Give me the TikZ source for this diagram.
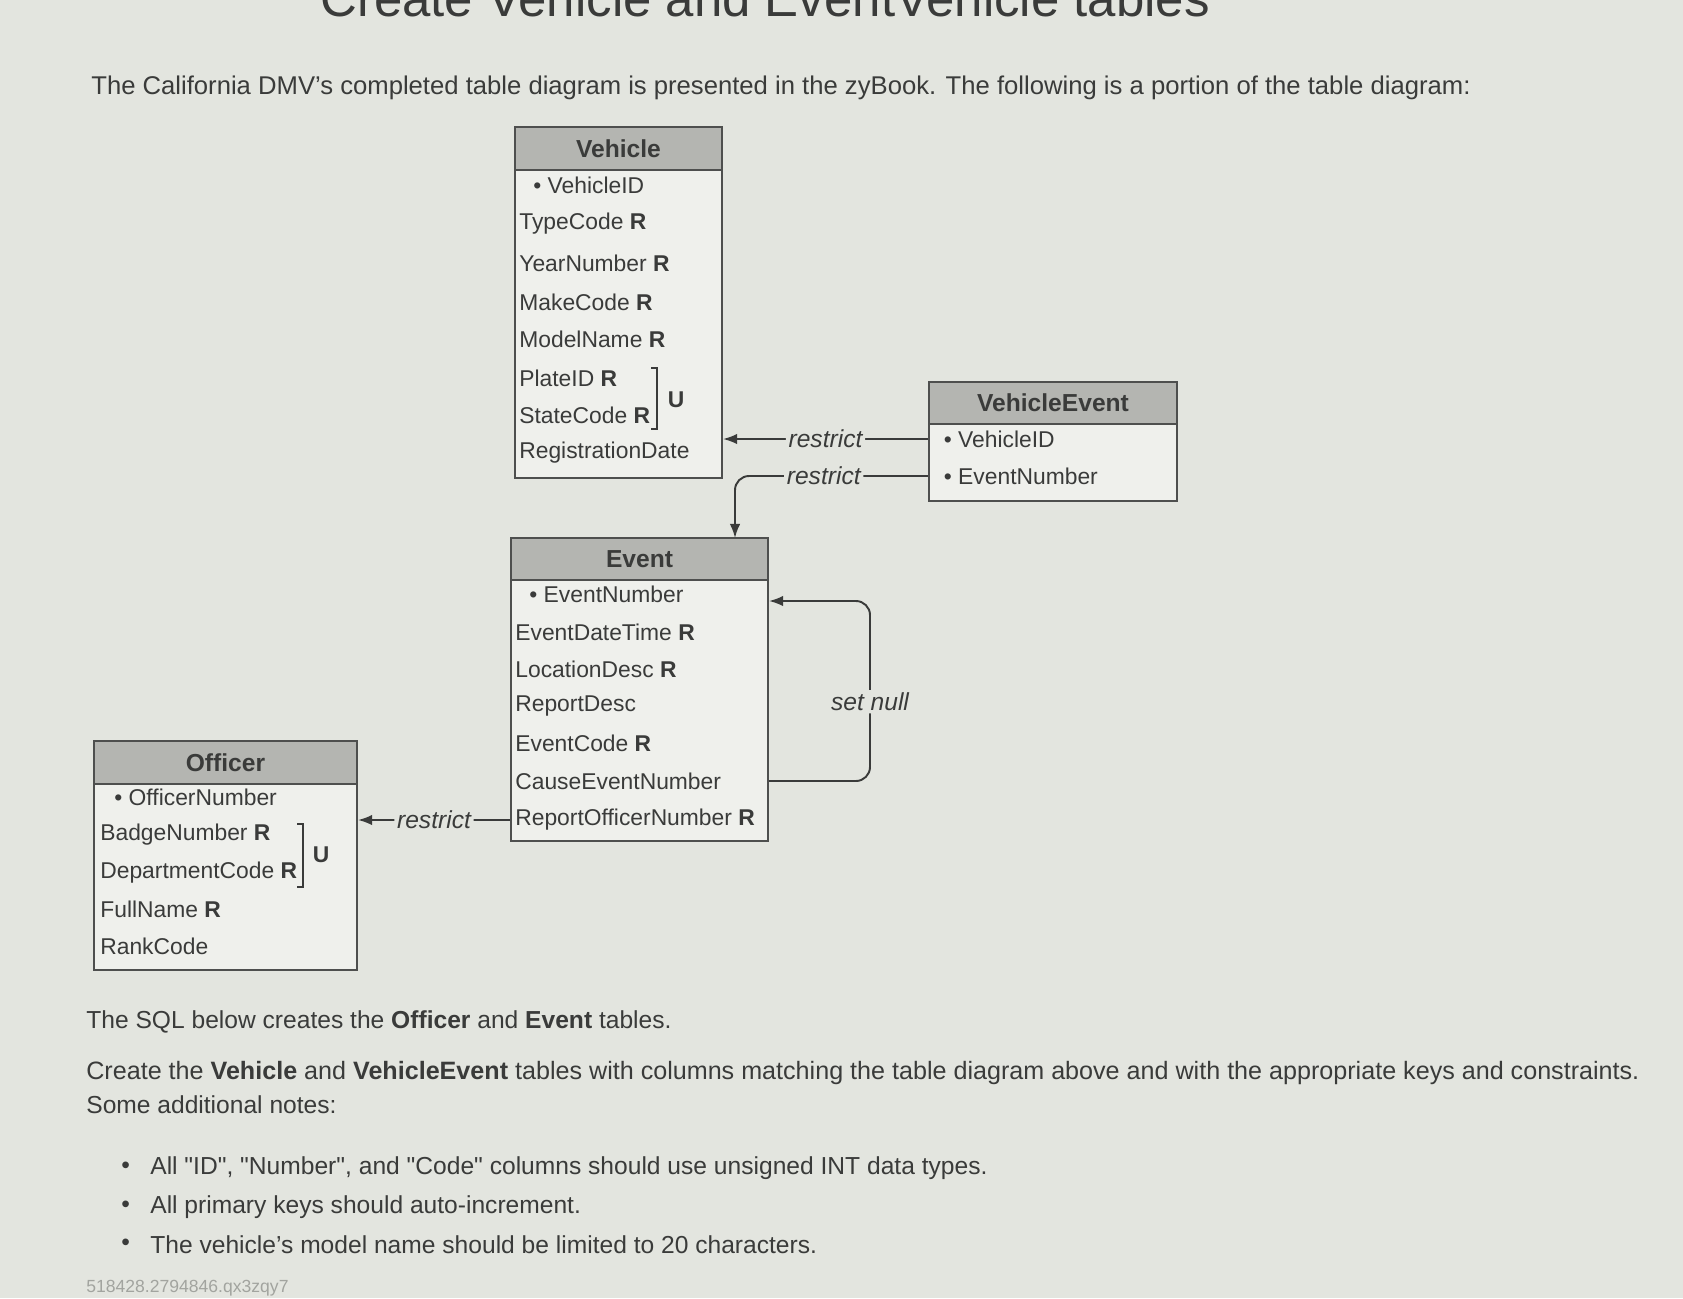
\documentclass[tikz,border=0pt]{standalone}
\usepackage{fontspec}
\setmainfont{Liberation Sans}
\usetikzlibrary{arrows.meta,positioning,fit}
\definecolor{bg}{HTML}{E3E5DF}
\definecolor{ink}{HTML}{3A3B3A}
\definecolor{hdr}{HTML}{B4B5B1}
\definecolor{tbl}{HTML}{EFF0EC}
\definecolor{faint}{HTML}{A2A49F}
\newcommand{\pk}{\textbullet\ }
\newcommand{\qq}[1]{\textquotedbl#1\textquotedbl}

\begin{document}
\begin{tikzpicture}[x=0.02cm, y=-0.02cm,
  every node/.style={text=ink},
  tbody/.style={draw=ink!90, line width=1.2pt, fill=tbl, inner sep=0pt},
  thead/.style={tbody, fill=hdr},
  hname/.style={inner sep=0pt, text=ink, font=\fontsize{14}{16}\selectfont\bfseries},
  col/.style={anchor=west, inner sep=0pt, font=\fontsize{13}{15}\selectfont},
  ukey/.style={inner sep=0pt, font=\fontsize{13}{15}\selectfont\bfseries},
  brk/.style={draw=ink, line width=1pt},
  txt/.style={anchor=west, inner sep=0pt, font=\fontsize{14}{16}\selectfont},
  lbl/.style={fill=bg, inner sep=1.5pt, font=\fontsize{14}{16}\selectfont\itshape},
  fk/.style={-{Latex[length=8pt, width=6pt]}, line width=1.1pt, draw=ink, rounded corners=8},
]
\fill[bg] (0,0) rectangle (1683,1298);
\useasboundingbox (0,0) rectangle (1683,1298);

% cut-off heading
\begin{scope}
  \clip (0,0) rectangle (1683,40);
  \node[anchor=base west, inner sep=0pt, font=\fontsize{29}{32}\selectfont] (title)
    at (320,16) {Create Vehicle and EventVehicle tables};
\end{scope}

\node[txt, font=\fontsize{14.6}{17}\selectfont] (intro) at (91,88) {The California DMV's completed table diagram is presented in the zyBook. The following is a portion of the table diagram:};

% Vehicle
\node[tbody, fit={(515,170) (722,478)}] (vbody) {};
\node[thead, fit={(515,127) (722,170)}, label={[hname]center:Vehicle}] (vhead) {};
\node[col] (v1) at (519,185) {\hspace{8pt}\pk VehicleID};
\node[col] (v2) at (519,224) {TypeCode \textbf{R}};
\node[col] (v3) at (519,263) {YearNumber \textbf{R}};
\node[col] (v4) at (519,302) {MakeCode \textbf{R}};
\node[col] (v5) at (519,339) {ModelName \textbf{R}};
\node[col] (v6) at (519,378) {PlateID \textbf{R}};
\node[col] (v7) at (519,415) {StateCode \textbf{R}};
\node[col] (v8) at (519,453) {RegistrationDate};
\draw[brk] (651,368) -| (657,429) -- (651,429);
\node[ukey] (vu) at (676,400) {U};

% VehicleEvent
\node[tbody, fit={(929,424) (1177,501)}] (vebody) {};
\node[thead, fit={(929,382) (1177,424)}, label={[hname]center:VehicleEvent}] (vehead) {};
\node[col] (ve1) at (940,439) {\hspace{2pt}\pk VehicleID};
\node[col] (ve2) at (940,476) {\hspace{2pt}\pk EventNumber};

% Event
\node[tbody, fit={(511,580) (768,841)}] (ebody) {};
\node[thead, fit={(511,538) (768,580)}, label={[hname]center:Event}] (ehead) {};
\node[col] (e1) at (515,594) {\hspace{8pt}\pk EventNumber};
\node[col] (e2) at (515,632) {EventDateTime \textbf{R}};
\node[col] (e3) at (515,669) {LocationDesc \textbf{R}};
\node[col] (e4) at (515,706) {ReportDesc};
\node[col] (e5) at (515,743) {EventCode \textbf{R}};
\node[col] (e6) at (515,781) {CauseEventNumber};
\node[col] (e7) at (515,820) {ReportOfficerNumber \textbf{R}};

% Officer
\node[tbody, fit={(94,784) (357,970)}] (obody) {};
\node[thead, fit={(94,741) (357,784)}, label={[hname]center:Officer}] (ohead) {};
\node[col] (o1) at (100,797) {\hspace{8pt}\pk OfficerNumber};
\node[col] (o2) at (100,835) {BadgeNumber \textbf{R}};
\node[col] (o3) at (100,873) {DepartmentCode \textbf{R}};
\node[col] (o4) at (100,909) {FullName \textbf{R}};
\node[col] (o5) at (100,946) {RankCode};
\draw[brk] (297,824) -| (303,887) -- (297,887);
\node[ukey] (ou) at (321,855) {U};

% foreign keys
\coordinate (edrop) at (735,538);
\coordinate (loop) at (870,601);
\draw[fk] (vebody.west |- ve1) -- node[lbl]{restrict} (vbody.east |- ve1);
\draw[fk] (vebody.west |- ve2) -| node[lbl, pos=0.27]{restrict} (edrop);
\draw[fk] (ebody.east |- e6) -| node[lbl, pos=0.72]{set null} (loop) -- (ebody.east |- loop);
\draw[fk] (ebody.west |- e7) -- node[lbl]{restrict} (obody.east |- e7);

% text below
\node[txt] (sql) at (86,1022) {The SQL below creates the \textbf{Officer} and \textbf{Event} tables.};
\node[txt, font=\fontsize{14.3}{16}\selectfont] (task) at (86,1073) {Create the \textbf{Vehicle} and \textbf{VehicleEvent} tables with columns matching the table diagram above and with the appropriate keys and constraints.};
\node[txt] (notes) at (86,1105) {Some additional notes:};
\node[txt] (m1) at (121,1168) {\textbullet};
\node[txt] (m2) at (121,1207) {\textbullet};
\node[txt] (m3) at (121,1245) {\textbullet};
\node[txt] (n1) at (150,1168) {All \qq{ID}, \qq{Number}, and \qq{Code} columns should use unsigned INT data types.};
\node[txt] (n2) at (150,1207) {All primary keys should auto-increment.};
\node[txt] (n3) at (150,1245) {The vehicle's model name should be limited to 20 characters.};
\node[txt, text=faint, font=\fontsize{10}{12}\selectfont] (code) at (86,1288) {518428.2794846.qx3zqy7};
\end{tikzpicture}
\end{document}
